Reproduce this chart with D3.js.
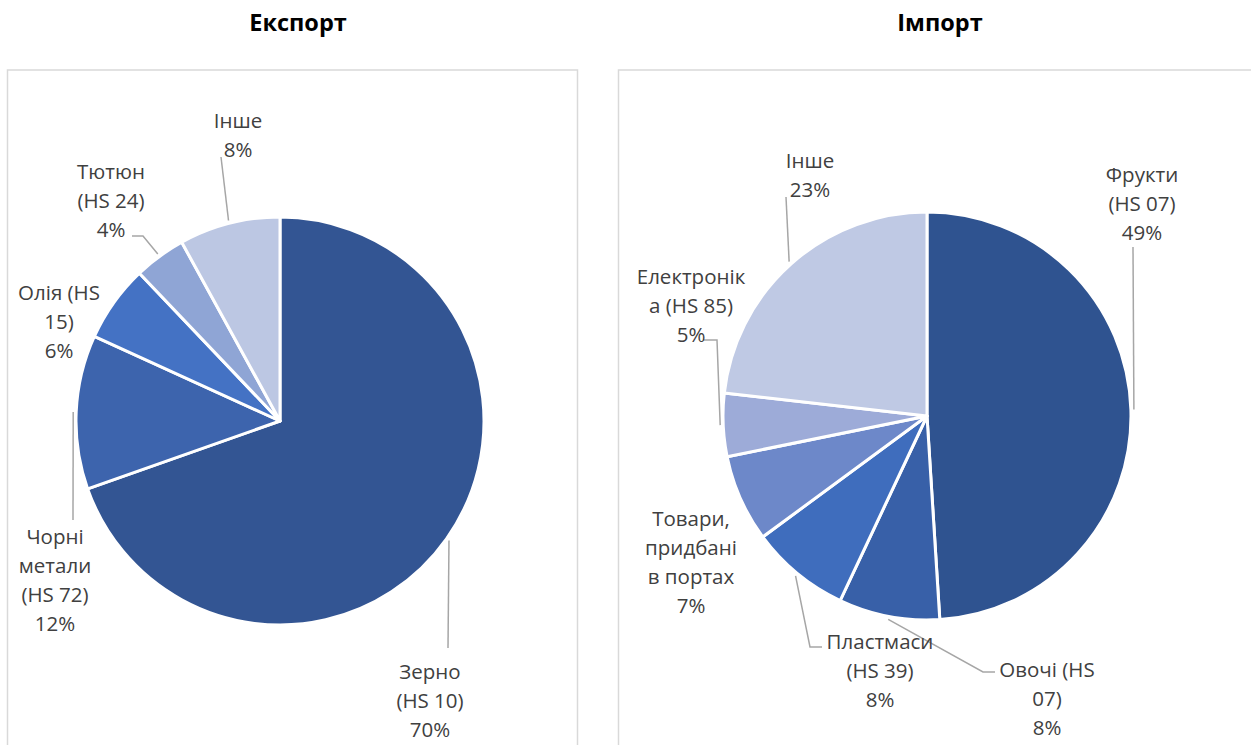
<!DOCTYPE html>
<html>
<head>
<meta charset="utf-8">
<script src="https://cdn.jsdelivr.net/npm/d3@7"></script>
<style>
  body { margin: 0; background: #fff; }
</style>
</head>
<body>
<script>
// ---- data ----
const exportNames = ["Зерно\n(HS 10)", "Чорні\nметали\n(HS 72)", "Олія (HS\n15)", "Тютюн\n(HS 24)", "Інше"];
const exportValues = [69.6, 12.2, 6.1, 4.1, 8.0];

const importNames = ["Фрукти\n(HS 07)", "Овочі (HS\n07)", "Пластмаси\n(HS 39)", "Товари,\nпридбані\nв портах", "Електронік\nа (HS 85)", "Інше"];
const importValues = [49.0, 8.0, 7.9, 6.9, 5.0, 23.2];

const titles = ["Експорт", "Імпорт"];

// ---- styles / layout ----
const exportColors = ["#335593", "#3d64ad", "#4472c4", "#8fa5d5", "#bcc7e3"];
const importColors = ["#2f5390", "#3860a8", "#3f6dbd", "#6d88c9", "#9dabd8", "#bfc9e4"];

// label block centre (first line) + leader anchor / elbow
const exportLayout = [
  { x: 430, y: 672, anchor: [448, 648] },
  { x: 55, y: 537, anchor: [73, 520] },
  { x: 59, y: 293 },
  { x: 111, y: 172, elbow: [143, 236], anchor: [132, 236] },
  { x: 238, y: 121, anchor: [221, 157] }
];
const importLayout = [
  { x: 1142, y: 175, anchor: [1133, 247] },
  { x: 1047, y: 670, elbow: [983, 672], anchor: [995, 672] },
  { x: 880, y: 642, elbow: [810, 647], anchor: [822, 647] },
  { x: 691, y: 519 },
  { x: 691, y: 277, elbow: [717, 340], anchor: [703, 340] },
  { x: 810, y: 161, anchor: [786, 197] }
];

const W = 1251, H = 745;
const R = 204;
const lineH = 29;
const fontFam = "'Open Sans', 'Noto Sans', sans-serif";

const svg = d3.select("body").append("svg")
  .attr("width", W)
  .attr("height", H);

// panels
svg.append("rect")
  .attr("x", 7.5).attr("y", 70)
  .attr("width", 570).attr("height", 700)
  .attr("fill", "none")
  .attr("stroke", "#d9d9d9")
  .attr("stroke-width", 1.5);

svg.append("rect")
  .attr("x", 618.5).attr("y", 70)
  .attr("width", 700).attr("height", 700)
  .attr("fill", "none")
  .attr("stroke", "#d9d9d9")
  .attr("stroke-width", 1.5);

// titles
svg.selectAll("text.title")
  .data(titles)
  .join("text")
    .attr("class", "title")
    .attr("x", (d, i) => i == 0 ? 298 : 940)
    .attr("y", 23)
    .attr("dy", "0.35em")
    .attr("text-anchor", "middle")
    .attr("font-family", fontFam)
    .attr("font-weight", "bold")
    .attr("font-size", "23.5px")
    .attr("fill", "#000")
    .text(d => d);

const pct = d3.format(".0f");

function drawPie(names, values, colors, layout, cx, cy) {
  const data = names.map((n, i) => ({ name: n, value: values[i] }));
  const total = d3.sum(values);
  const arcs = d3.pie().sort(null).value(d => d.value)(data);
  const arc = d3.arc().innerRadius(0).outerRadius(R);
  const edge = d3.arc().innerRadius(R + 3).outerRadius(R + 3);

  const g = svg.append("g").attr("transform", `translate(${cx},${cy})`);

  g.selectAll("path.slice")
    .data(arcs)
    .join("path")
      .attr("class", "slice")
      .attr("d", arc)
      .attr("fill", (d, i) => colors[i])
      .attr("stroke", "#fff")
      .attr("stroke-width", 3)
      .attr("stroke-linejoin", "round");

  // leader lines
  arcs.forEach((a, i) => {
    const lay = layout[i];
    if (!lay.anchor) return;
    const c = edge.centroid(a);
    const pts = [[c[0] + cx, c[1] + cy]];
    if (lay.elbow) pts.push(lay.elbow);
    pts.push(lay.anchor);
    svg.append("path")
      .attr("d", d3.line()(pts))
      .attr("fill", "none")
      .attr("stroke", "#a6a6a6")
      .attr("stroke-width", 1.5);
  });

  // labels
  arcs.forEach((a, i) => {
    const lay = layout[i];
    const lines = a.data.name.split("\n").concat(pct(a.data.value / total * 100) + "%");
    const t = svg.append("text")
      .attr("text-anchor", "middle")
      .attr("font-family", fontFam)
      .attr("font-size", "20.5px")
      .attr("fill", "#404040");
    lines.forEach((l, k) => {
      t.append("tspan")
        .attr("x", lay.x)
        .attr("y", lay.y + k * lineH)
        .attr("dy", "0.35em")
        .text(l);
    });
  });
}

drawPie(exportNames, exportValues, exportColors, exportLayout, 280, 421);
drawPie(importNames, importValues, importColors, importLayout, 927, 416);
</script>
</body>
</html>
